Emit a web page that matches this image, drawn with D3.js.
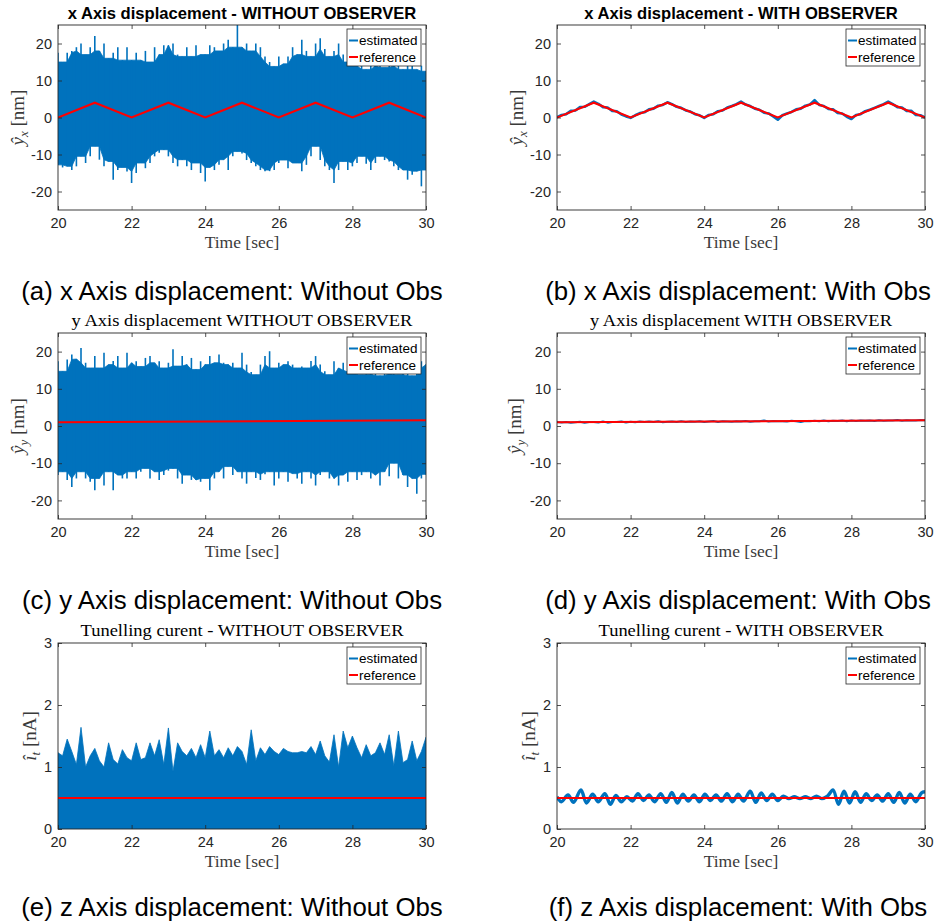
<!DOCTYPE html>
<html><head><meta charset="utf-8">
<script src="https://cdn.jsdelivr.net/npm/d3@7"></script>
<style>body{margin:0;background:#fff} svg{display:block}</style>
</head><body><svg id="fig" width="934" height="921"></svg>
<script>
// ---------------- data ----------------
const timeTicks = [20, 22, 24, 26, 28, 30];
const dispTicks = [-20, -10, 0, 10, 20];
const currentTicks = [0, 1, 2, 3];
const legendLabels = ["estimated", "reference"];
const captions = [
  "(a) x Axis displacement: Without Obs", "(b) x Axis displacement: With Obs",
  "(c) y Axis displacement: Without Obs", "(d) y Axis displacement: With Obs",
  "(e) z Axis displacement: Without Obs", "(f) z Axis displacement: With Obs"];
const titles = [
  "x Axis displacement - WITHOUT OBSERVER", "x Axis displacement - WITH OBSERVER",
  "y Axis displacement WITHOUT OBSERVER", "y Axis displacement WITH OBSERVER",
  "Tunelling curent - WITHOUT OBSERVER", "Tunelling curent - WITH OBSERVER"];

// sampling instants (s) of the read envelopes / traces
const tGrid = d3.range(0, 81).map(k => 20 + k * 0.125);

// reference signals
const refXT = [20, 21, 22, 23, 24, 25, 26, 27, 28, 29, 30];
const refXV = [0, 4, 0, 4, 0, 4, 0, 4, 0, 4, 0];
const refYT = [20, 30];
const refYV = [1.0, 1.55];
const refIT = [20, 30];
const refIV = [0.5, 0.5];

// (a) noisy estimate envelope, x axis without observer [nm]
const upperA = [17.5,15,17.5,18,19,20,17,19,22,18,20,16,17.5,19,15.5,19,15.5,17.5,15.5,18,15,19,17,19.5,19.5,20,17,16.5,19,16.5,19.5,17,17,19.5,19,18,20,21,19,25,19,20,18,20,19,16.5,15,13.8,16.5,14.5,16.5,19,17,21,18,16.5,20,21.4,18.5,16.5,18,20,17,15,16,14,15.5,13,15,14,16,13.5,15,14,16,13,14.5,15.5,13,14,12.5];
const lowerA = [-12.8,-13.5,-13.2,-14.2,-13.2,-10.5,-12.3,-10.5,-7.8,-11.4,-13.2,-11.9,-16.8,-14.2,-13.5,-14.6,-17.7,-15,-12.3,-13.7,-12.3,-10.5,-9.5,-8.7,-10.5,-12.3,-13.2,-11.4,-13.2,-14.2,-12.3,-15,-17.3,-13.5,-14.2,-12.8,-11.4,-14.2,-10.5,-9.2,-9.7,-11.5,-12.3,-13.2,-14.2,-14.5,-14.5,-14.2,-12.3,-11.5,-13.7,-12.3,-12.3,-14.5,-12.8,-10.5,-7.8,-11.5,-13.2,-14.2,-17.7,-14.2,-11.9,-14.2,-13.2,-12.3,-10.5,-12.5,-14.2,-12.3,-10.5,-11.5,-11.9,-13.2,-14.2,-14.2,-16.8,-15.5,-14.5,-18.6,-14.2];

// (b) estimate with observer [nm]
const estB = [0.1,0.7,0.9,1.8,1.9,2.8,2.9,3.6,4.3,3.7,2.8,2.7,1.8,1.7,0.8,0.3,
  -0.1,0.6,1.2,1.4,2.2,2.4,3.2,3.4,4.1,3.6,2.9,2.6,1.9,1.6,0.9,0.6,
  -0.1,0.7,0.9,1.7,1.9,2.7,3.1,3.6,4.3,3.5,3.1,2.4,2.1,1.3,1.1,0.3,
  -0.6,0.6,1.1,1.5,2.2,2.4,3.2,3.5,4.7,3.4,3.1,2.3,2.2,1.2,1.1,0.2,
  -0.4,0.7,0.9,1.7,2.1,2.6,3.1,3.6,4.3,3.6,2.8,2.7,1.8,1.8,0.7,0.6,0.0];

// (c) noisy estimate envelope, y axis without observer [nm]
const upperC = [17.4,14.7,17.9,19.2,18,21,17,15.6,18.8,15.6,19.7,16.5,17.5,18.8,15.6,19.7,17,17.4,16,18.3,18.8,17,17.4,15.6,17,20.6,16.1,18.8,16.5,18.3,15.2,17.4,16.5,18.8,17,19.2,17,16.5,17,15.6,19.7,16.5,14.5,13.8,16.5,18.8,20.1,15.6,17,16.5,17.4,16.5,15.6,16,15.6,17.5,18.8,16.5,14.7,13.8,17.4,15.6,17,15,14.5,16,13.8,15.2,14,15.6,13.5,15,14.2,16,13.8,15.2,14.7,13.5,15.6,17.4,16.5];
const lowerC = [-13.2,-12.3,-14.5,-16.4,-14.1,-12.3,-14.1,-15,-17.3,-14.1,-16,-12.3,-17.3,-13.2,-14.1,-14.1,-12.3,-14.1,-12.3,-11.4,-14.1,-12.3,-14.5,-13.2,-12,-11.4,-14.1,-15.5,-13.2,-14.5,
  -14.5,-15,-14.1,-17.3,-14.1,-12.3,-14.1,-10.9,-13.2,-12.3,-14.1,-15.5,-12.3,-14,-14.5,
  -13,-12.3,-16,-14.1,-12.3,-15,-12.8,-14.1,-15.5,-12.3,-14.1,-16,-13.2,-12.3,-14.1,
  -14.1,-16,-13.2,-15,-12.3,-14.5,-13.2,-12.3,-14.1,-13.2,-16,-12.3,-13.5,-10,-14.1,-13.2,-16.4,-14.1,-18.2,-14.1,-13];

// (d) estimate with observer [nm]
const estD = [1.05,0.95,1.1,0.9,1.0,1.15,0.85,1.05,1.1,0.95,1.2,0.9,1.1,1.05,1.2,0.95,1.15,1.0,1.2,1.1,
  1.2,1.05,1.25,1.0,1.15,1.2,1.05,1.3,1.1,1.2,1.15,1.25,1.05,1.2,1.35,1.1,1.25,1.2,1.15,1.3,
  1.2,1.35,1.15,1.3,1.25,1.5,1.2,1.35,1.25,1.3,1.2,1.4,1.3,1.1,1.35,1.3,1.4,1.25,1.45,1.3,
  1.4,1.35,1.5,1.3,1.45,1.35,1.5,1.4,1.45,1.35,1.55,1.4,1.5,1.45,1.6,1.4,1.55,1.5,1.45,1.6,1.55];

// (e) noisy tunnelling current upper envelope [nA] (lower edge sits on 0)
const upperE = [1.23,1.18,1.45,1.25,1.04,1.64,1.0,1.18,1.3,1.1,1.0,1.39,1.12,1.05,1.28,1.15,1.1,1.39,1.12,1.15,1.39,1.18,1.44,1.04,1.63,0.93,1.39,1.25,1.18,1.3,1.15,1.36,1.15,1.58,1.18,1.28,1.15,1.31,1.18,1.33,1.25,1.04,1.6,1.1,1.31,1.2,1.33,1.25,1.2,1.3,1.25,1.23,1.23,1.25,1.23,1.33,1.2,1.42,1.18,1.08,1.52,1.0,1.58,1.31,1.5,1.31,1.15,1.36,1.18,1.23,1.39,1.2,1.52,1.02,1.58,1.07,1.12,1.42,1.1,1.25,1.48];
const floorE = 0;

// (f) tunnelling current with observer: extremes of the oscillation
const tF = [20.0,20.12,20.3,20.45,20.65,20.8,20.97,21.12,21.3,21.45,21.6,21.75,21.9,22.05,22.2,22.35,22.5,22.65,22.82,22.97,23.12,23.27,23.42,23.57,23.72,23.87,24.02,24.17,24.32,24.47,24.62,24.77,24.92,25.07,25.25,25.4,25.55,25.7,25.85,26.0,26.15,26.3,26.45,26.6,26.75,26.9,27.05,27.2,27.35,27.5,27.65,27.8,27.95,28.1,28.25,28.4,28.55,28.7,28.85,29.0,29.15,29.3,29.45,29.6,29.75,29.9,30.0];
const estF = [0.52,0.44,0.55,0.43,0.63,0.42,0.56,0.44,0.57,0.40,0.54,0.44,0.52,0.45,0.57,0.46,0.55,0.44,0.57,0.43,0.59,0.42,0.56,0.45,0.55,0.44,0.56,0.46,0.55,0.45,0.57,0.44,0.56,0.45,0.61,0.43,0.58,0.46,0.56,0.46,0.53,0.49,0.52,0.49,0.52,0.49,0.53,0.49,0.53,0.63,0.40,0.61,0.42,0.60,0.43,0.57,0.46,0.55,0.45,0.57,0.43,0.59,0.42,0.56,0.44,0.58,0.60];

// ---------------- drawing ----------------
const svg = d3.select('#fig');
const AX = '#262626', BLUE = '#0072BD', RED = '#FF0000', LAB = '#3a3a3a';
const SANS = '"Liberation Sans", Arial, Helvetica, sans-serif';
const SERIF = '"Liberation Serif", "Times New Roman", serif';
const colsL = [{x0: 58, x1: 426, cap: 232}, {x0: 557, x1: 925, cap: 738}];
const rowsL = [{y0: 25, y1: 210, capY: 300}, {y0: 333, y1: 519, capY: 609}, {y0: 643, y1: 829, capY: 916}];

const zip = (a, b) => a.map((v, i) => [v, b[i]]);
// dense body of a noisy band: the lower of neighbouring peaks (spikes are drawn separately)
const bodyHi = a => a.map((v, k) => d3.min([a[k - 1] ?? v, v, a[k + 1] ?? v]));
const bodyLo = a => a.map((v, k) => d3.max([a[k - 1] ?? v, v, a[k + 1] ?? v]));

const panels = [
  {r: 0, c: 0, dom: [-25, 25], ticks: dispTicks, sym: 'ŷ', sub: 'x', unit: ' [nm]', labX: 24, titleBold: true,
   band: {lo: lowerA, hi: upperA, spiky: true}, ref: zip(refXT, refXV)},
  {r: 0, c: 1, dom: [-25, 25], ticks: dispTicks, sym: 'ŷ', sub: 'x', unit: ' [nm]', labX: 523, titleBold: true,
   line: zip(tGrid, estB), lineW: 2.6, ref: zip(refXT, refXV)},
  {r: 1, c: 0, dom: [-25, 25], ticks: dispTicks, sym: 'ŷ', sub: 'y', unit: ' [nm]', labX: 24, titleW: 341,
   band: {lo: lowerC, hi: upperC, spiky: true}, ref: zip(refYT, refYV)},
  {r: 1, c: 1, dom: [-25, 25], ticks: dispTicks, sym: 'ŷ', sub: 'y', unit: ' [nm]', labX: 521, titleW: 302,
   line: zip(tGrid, estD), lineW: 2, ref: zip(refYT, refYV)},
  {r: 2, c: 0, dom: [0, 3], ticks: currentTicks, sym: 'î', sub: 't', unit: ' [nA]', labX: 36, titleW: 323,
   band: {lo: null, hi: upperE, spiky: false}, ref: zip(refIT, refIV)},
  {r: 2, c: 1, dom: [0, 3], ticks: currentTicks, sym: 'î', sub: 't', unit: ' [nA]', labX: 535, titleW: 285,
   line: zip(tF, estF), lineW: 3.4, smooth: true, ref: zip(refIT, refIV)}
];

panels.forEach((p, i) => {
  const C = colsL[p.c], R = rowsL[p.r];
  const g = svg.append('g');
  const x = d3.scaleLinear().domain([20, 30]).range([C.x0, C.x1]);
  const y = d3.scaleLinear().domain(p.dom).range([R.y1, R.y0]);
  const clipId = 'clip' + i;
  svg.append('clipPath').attr('id', clipId).append('rect')
    .attr('x', C.x0).attr('y', R.y0).attr('width', C.x1 - C.x0).attr('height', R.y1 - R.y0);
  const data = g.append('g').attr('clip-path', `url(#${clipId})`);

  if (p.band) {
    const b = p.band;
    const hiBody = b.spiky ? bodyHi(b.hi) : b.hi;
    const loBody = b.lo ? (b.spiky ? bodyLo(b.lo) : b.lo) : null;
    const area = d3.area()
      .x((d, k) => x(tGrid[k]))
      .y0((d, k) => loBody ? y(loBody[k]) : y(floorE))
      .y1((d, k) => y(hiBody[k]));
    data.append('path').datum(b.hi).attr('d', area).attr('fill', BLUE)
      .attr('stroke', BLUE).attr('stroke-width', 0.8);
    if (b.spiky) {
      data.selectAll('line.spike').data(tGrid).join('line').attr('class', 'spike')
        .attr('x1', d => x(d)).attr('x2', d => x(d))
        .attr('y1', (d, k) => y(b.lo[k])).attr('y2', (d, k) => y(b.hi[k]))
        .attr('stroke', BLUE).attr('stroke-width', 1.6);
    }
  }
  if (p.line) {
    const ln = d3.line().x(d => x(d[0])).y(d => y(d[1]))
      .curve(p.smooth ? d3.curveCatmullRom : d3.curveLinear);
    data.append('path').datum(p.line).attr('d', ln).attr('fill', 'none')
      .attr('stroke', BLUE).attr('stroke-width', p.lineW).attr('stroke-linejoin', 'round');
  }
  const rl = d3.line().x(d => x(d[0])).y(d => y(d[1]));
  data.append('path').datum(p.ref).attr('d', rl).attr('fill', 'none')
    .attr('stroke', RED).attr('stroke-width', 2);

  // axes
  const style = sel => {
    sel.select('.domain').remove();
    sel.selectAll('line').attr('stroke', AX).attr('stroke-width', 0.8);
    sel.selectAll('text').attr('fill', AX).style('font-family', SANS).style('font-size', '14.5px');
  };
  const fmt = d => String(d).replace('−', '-');
  g.append('g').attr('transform', `translate(0,${R.y1})`)
    .call(d3.axisBottom(x).tickValues(timeTicks).tickSize(-4).tickPadding(8).tickFormat(fmt)).call(style);
  g.append('g').attr('transform', `translate(0,${R.y0})`)
    .call(d3.axisTop(x).tickValues(timeTicks).tickSize(-4).tickFormat('')).call(style);
  g.append('g').attr('transform', `translate(${C.x0},0)`)
    .call(d3.axisLeft(y).tickValues(p.ticks).tickSize(-4).tickPadding(6).tickFormat(fmt)).call(style);
  g.append('g').attr('transform', `translate(${C.x1},0)`)
    .call(d3.axisRight(y).tickValues(p.ticks).tickSize(-4).tickFormat('')).call(style);
  g.append('rect').attr('x', C.x0).attr('y', R.y0).attr('width', C.x1 - C.x0).attr('height', R.y1 - R.y0)
    .attr('fill', 'none').attr('stroke', AX).attr('stroke-width', 0.9);

  // legend
  const lx = C.x1 - 79, ly = R.y0 + 4;
  const lg = g.append('g');
  lg.append('rect').attr('x', lx).attr('y', ly).attr('width', 74).attr('height', 37)
    .attr('fill', '#fff').attr('stroke', AX).attr('stroke-width', 0.8);
  legendLabels.forEach((t, k) => {
    const yy = ly + 11.5 + k * 16.5;
    lg.append('line').attr('x1', lx + 2).attr('x2', lx + 11).attr('y1', yy).attr('y2', yy)
      .attr('stroke', k === 0 ? BLUE : RED).attr('stroke-width', 2);
    lg.append('text').attr('x', lx + 12).attr('y', yy + 4.8).text(t)
      .style('font-family', SANS).style('font-size', '13.5px').attr('fill', '#000');
  });

  // title
  const cx = (C.x0 + C.x1) / 2;
  if (p.titleBold) {
    g.append('text').attr('x', cx).attr('y', R.y0 - 6).attr('text-anchor', 'middle')
      .style('font-family', SANS).style('font-weight', 'bold').style('font-size', '16.6px')
      .attr('fill', '#000').text(titles[i]);
  } else {
    g.append('text').attr('x', cx).attr('y', R.y0 - 7).attr('text-anchor', 'middle')
      .style('font-family', SERIF).style('font-size', '17px').attr('fill', '#000')
      .attr('textLength', p.titleW).attr('lengthAdjust', 'spacingAndGlyphs').text(titles[i]);
  }

  // x label
  g.append('text').attr('x', cx).attr('y', R.y1 + 38).attr('text-anchor', 'middle')
    .style('font-family', SERIF).style('font-size', '17.5px').attr('fill', LAB).text('Time [sec]');

  // y label
  const yl = g.append('text').attr('transform', `translate(${p.labX},${(R.y0 + R.y1) / 2}) rotate(-90)`)
    .attr('text-anchor', 'middle').style('font-family', SERIF).style('font-size', '19px').attr('fill', LAB);
  yl.append('tspan').style('font-style', 'italic').text(p.sym);
  yl.append('tspan').style('font-style', 'italic').style('font-size', '13px').attr('dy', 4).text(p.sub);
  yl.append('tspan').attr('dy', -4).text(p.unit);

  // caption
  svg.append('text').attr('x', C.cap).attr('y', R.capY).attr('text-anchor', 'middle')
    .style('font-family', SANS).style('font-size', '25.8px').attr('fill', '#000').text(captions[i]);
});
</script>
</body></html>
